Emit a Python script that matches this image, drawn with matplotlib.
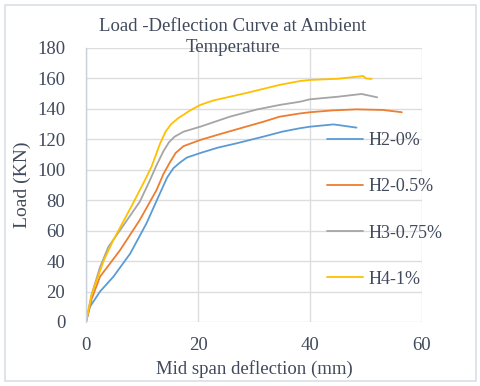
import matplotlib
matplotlib.use("Agg")
import matplotlib.pyplot as plt
from matplotlib.patches import Rectangle

# Data
h2_0_x = [0, 0.7, 2.5, 4.9, 7.9, 10.8, 13.2, 14.5, 15.6, 16.8, 18.0, 20.4, 23.5, 26.9, 31.7, 35.0, 38.2, 40.0, 42.5, 44.2, 45.4, 48.3]
h2_0_y = [0, 10, 20, 29.8, 45, 64.8, 84.5, 95, 101, 104.8, 108, 111, 114.5, 117.4, 121.8, 125, 127.3, 128.3, 129.2, 129.8, 129.2, 127.7]

h2_05_x = [0, 1.0, 2.5, 4.3, 6.1, 9.6, 12.6, 13.8, 15.0, 16.0, 17.4, 20.4, 24.0, 27.5, 31.7, 34.6, 38.2, 40.0, 44.0, 48.3, 53.0, 56.4]
h2_05_y = [0, 15, 29.8, 38.5, 47.3, 67, 86.7, 97, 105, 111, 115.5, 119.6, 123.5, 127.2, 131.6, 134.9, 137, 137.8, 139, 139.7, 139.3, 137.8]

h3_075_x = [0, 1.0, 2.5, 4.0, 6.1, 9.6, 11.4, 12.6, 13.8, 14.8, 15.8, 17.4, 20.4, 25.7, 30.5, 34.6, 38.2, 40.0, 45.0, 49.2, 52.0]
h3_075_y = [0, 18, 36, 49.4, 60.4, 79, 93, 103, 112, 118, 121.7, 125, 128.3, 134.9, 139.6, 142.6, 144.7, 146.3, 148, 149.8, 147.6]

h4_1_x = [0, 1.0, 3.2, 4.9, 8.4, 10.5, 11.7, 13.2, 14.2, 15.2, 16.5, 18.6, 20.4, 22.7, 28.7, 34.6, 38.2, 40.0, 45.0, 49.5, 50.0, 51.0]
h4_1_y = [0, 18, 40.7, 53.9, 78, 93, 102, 117, 125, 130, 134, 139, 142.6, 145.5, 150.5, 155.8, 158.3, 159, 159.8, 161.6, 160, 159.7]

series_names = ["H2-0%", "H2-0.5%", "H3-0.75%", "H4-1%"]
series_colors = ["#5B9BD5", "#ED7D31", "#A5A5A5", "#FFC000"]

x_ticks = [0, 20, 40, 60]
y_ticks = [0, 20, 40, 60, 80, 100, 120, 140, 160, 180]

title = "Load -Deflection Curve at Ambient\nTemperature"
x_label = "Mid span deflection (mm)"
y_label = "Load (KN)"

TEXT = "#404A5C"
plt.rcParams['font.family'] = ['Liberation Serif', 'DejaVu Serif']

fig = plt.figure(figsize=(4.8, 3.86), dpi=100)
fig.patches.append(Rectangle((5/480, 1-381/386), 471/480, 376/386, transform=fig.transFigure,
                             fill=False, edgecolor="#D9DEE6", linewidth=1.2))

ax = fig.add_axes([86/480, 1-322/386, 336/480, 274/386])

data = [(h2_0_x, h2_0_y), (h2_05_x, h2_05_y), (h3_075_x, h3_075_y), (h4_1_x, h4_1_y)]
for (xs, ys), name, c in zip(data, series_names, series_colors):
    ax.plot(xs, ys, color=c, linewidth=1.3, label=name,
            solid_joinstyle='round', solid_capstyle='round')

ax.set_xlim(0, 60)
ax.set_ylim(0, 180)
ax.set_xticks(x_ticks)
ax.set_yticks(y_ticks)
ax.grid(True, color="#DDDDDD", linewidth=1.0)
ax.set_axisbelow(True)
for s in ["top", "right", "bottom"]:
    ax.spines[s].set_visible(False)
ax.spines["left"].set_color("#C9D1DD")
ax.spines["left"].set_linewidth(1.0)
ax.tick_params(length=0, labelsize=13.5, colors=TEXT, pad=15)
ax.tick_params(axis='x', pad=11)

ax.set_xlabel(x_label, fontsize=13.5, color=TEXT, labelpad=4)
ax.set_ylabel(y_label, fontsize=14, color=TEXT, labelpad=4)

fig.text(233/480, 1-37/386, title, ha="center", va="center", fontsize=13.5, color=TEXT,
         linespacing=1.35)

handles, labels = ax.get_legend_handles_labels()
leg = ax.legend(handles, labels, loc="upper left", bbox_to_anchor=(327/480, 1-132/386),
                bbox_transform=fig.transFigure, frameon=False, fontsize=13,
                labelcolor=TEXT, handlelength=2.0, handletextpad=0.3, labelspacing=1.62,
                borderpad=0, borderaxespad=0)

fig.savefig("out.png", dpi=100)
